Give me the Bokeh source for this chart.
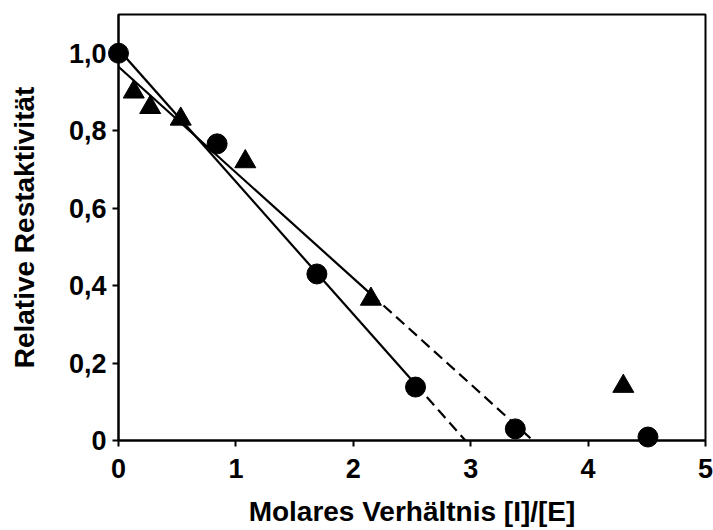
from bokeh.plotting import figure
from bokeh.models import Range1d, FixedTicker
from bokeh.embed import file_html
from bokeh.resources import INLINE

# --- data ---
circ_x = [0.0, 0.84, 1.69, 2.53, 3.38, 4.51]
circ_y = [1.0, 0.766, 0.43, 0.138, 0.03, 0.009]
tri_x = [0.13, 0.27, 0.53, 1.08, 2.15, 4.30]
tri_y = [0.90, 0.86, 0.83, 0.72, 0.365, 0.14]

# fitted lines (solid part and dashed extrapolation)
fit_c_solid_x = [0.0, 2.53]
fit_c_solid_y = [1.01, 0.145]
fit_c_dash_x = [2.53, 2.955]
fit_c_dash_y = [0.145, 0.0]
fit_t_solid_x = [0.0, 2.15]
fit_t_solid_y = [0.965, 0.378]
fit_t_dash_x = [2.15, 3.53]
fit_t_dash_y = [0.378, 0.0]

x_ticks = [0, 1, 2, 3, 4, 5]
y_ticks = [0, 0.2, 0.4, 0.6, 0.8, 1.0]
y_tick_labels = ["0", "0,2", "0,4", "0,6", "0,8", "1,0"]
x_title = "Molares Verhältnis [I]/[E]"
y_title = "Relative Restaktivität"

FONT = "Liberation Sans"

p = figure(width=713, height=529,
           x_range=Range1d(0, 5), y_range=Range1d(0, 1.1),
           output_backend="svg", toolbar_location=None,
           min_border_left=118, min_border_right=8,
           min_border_top=14, min_border_bottom=89)
p.xgrid.visible = False
p.ygrid.visible = False
p.outline_line_color = "black"
p.outline_line_width = 2
p.outline_line_alpha = 1.0
p.background_fill_color = "white"
p.border_fill_color = "white"

for ax in (p.xaxis[0], p.yaxis[0]):
    ax.axis_line_color = "black"
    ax.axis_line_width = 2
    ax.major_tick_line_color = "black"
    ax.major_tick_line_width = 2
    ax.major_tick_out = 6
    ax.major_tick_in = 0
    ax.minor_tick_line_color = None
    ax.major_label_text_font = FONT
    ax.major_label_text_font_style = "bold"
    ax.major_label_text_font_size = "27px"
    ax.major_label_text_color = "black"
    ax.major_label_text_line_height = 1.0
    ax.axis_label_text_font = FONT
    ax.axis_label_text_font_style = "bold"
    ax.axis_label_text_font_size = "28px"
    ax.axis_label_text_color = "black"
    ax.axis_label_text_line_height = 1.0

p.xaxis.ticker = FixedTicker(ticks=x_ticks)
p.yaxis.ticker = FixedTicker(ticks=y_ticks)
p.yaxis.major_label_overrides = {t: l for t, l in zip(y_ticks, y_tick_labels)}
p.xaxis.major_label_standoff = 12
p.yaxis.major_label_standoff = 6
p.xaxis.axis_label = x_title
p.yaxis.axis_label = y_title
p.xaxis.axis_label_standoff = 15
p.yaxis.axis_label_standoff = 26

p.line(fit_c_solid_x, fit_c_solid_y, line_color="black", line_width=2.2)
p.line(fit_c_dash_x, fit_c_dash_y, line_color="black", line_width=2.2, line_dash="11 6")
p.line(fit_t_solid_x, fit_t_solid_y, line_color="black", line_width=2.2)
p.line(fit_t_dash_x, fit_t_dash_y, line_color="black", line_width=2.2, line_dash="11 6")

p.scatter(circ_x, circ_y, marker="circle", size=20, color="black", level="overlay")
p.scatter(tri_x, tri_y, marker="triangle", size=21, color="black", level="overlay")

open("out.html", "w").write(file_html(p, INLINE))
